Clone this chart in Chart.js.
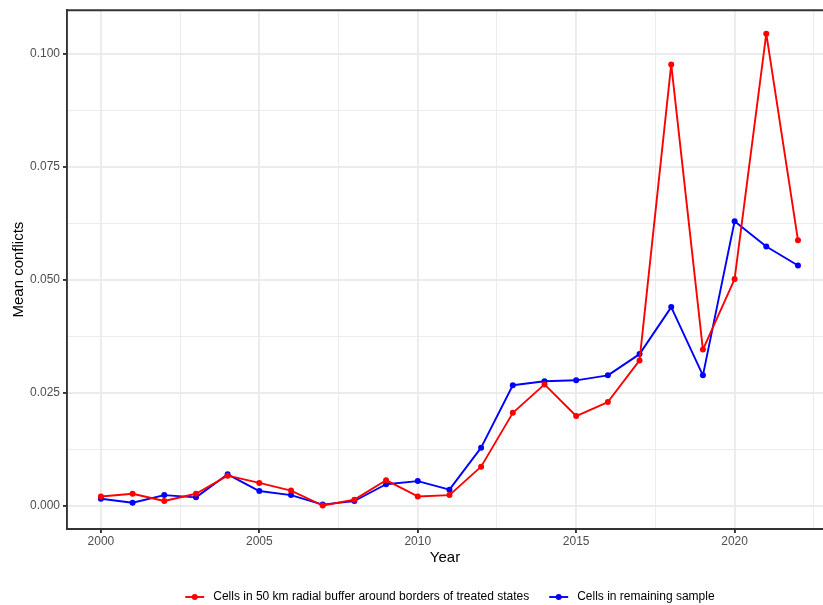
<!DOCTYPE html>
<html>
<head>
<meta charset="utf-8">
<script src="https://cdn.jsdelivr.net/npm/chart.js@4.4.1/dist/chart.umd.min.js"></script>
<style>
  html, body { margin: 0; padding: 0; background: #fff; overflow: hidden; }
</style>
</head>
<body>
<canvas id="c" width="823" height="605"></canvas>
<script>
// 平均紛争件数: 処置州境界の50kmバッファ内セル vs 残りのセル
const YEARS = [2000, 2001, 2002, 2003, 2004, 2005, 2006, 2007, 2008, 2009, 2010, 2011,
  2012, 2013, 2014, 2015, 2016, 2017, 2018, 2019, 2020, 2021, 2022];
const BUFFER = [0.0020, 0.0026, 0.0010, 0.0026, 0.0066, 0.0050, 0.0033, 0.0000, 0.0013, 0.0056, 0.0020, 0.0023,
  0.0086, 0.0205, 0.0268, 0.0198, 0.0229, 0.0321, 0.0976, 0.0345, 0.0501, 0.1044, 0.0587];
const REMAINING = [0.0015, 0.0006, 0.0023, 0.0018, 0.0069, 0.0032, 0.0023, 0.0002, 0.0010, 0.0047, 0.0054, 0.0035,
  0.0128, 0.0266, 0.0275, 0.0277, 0.0288, 0.0335, 0.0439, 0.0288, 0.0629, 0.0573, 0.0531];
const SERIES_LABELS = ["Cells in 50 km radial buffer around borders of treated states", "Cells in remaining sample"];
const SERIES_COLORS = ["#ff0000", "#0000ff"];
const X_TICKS = [2000, 2002.5, 2005, 2007.5, 2010, 2012.5, 2015, 2017.5, 2020, 2022.5];
const Y_TICKS = [0, 0.0125, 0.025, 0.0375, 0.05, 0.0625, 0.075, 0.0875, 0.1];

const FONT = "'Liberation Sans', Arial, sans-serif";
const ink = "#4d4d4d";
const gridColor = "#ebebeb";
const frame = "#333333";
const PANEL_MAX = 2023.1; // ggplotのパネル右端(画像の外)

const isMajorX = (v) => v % 5 === 0;
const isMajorY = (v) => Math.abs(v / 0.025 - Math.round(v / 0.025)) < 1e-6;
const toPts = (vals) => YEARS.map((y, i) => ({ x: y, y: vals[i] }));

// 上辺の枠線と、下の凡例(線+点のキー)
const framePlugin = {
  id: "frameTop",
  afterDraw(chart) {
    const { ctx, chartArea } = chart;
    ctx.save();
    ctx.strokeStyle = frame;
    ctx.lineWidth = 1.9;
    ctx.beginPath();
    ctx.moveTo(chartArea.left - 1, chartArea.top);
    ctx.lineTo(chartArea.right, chartArea.top);
    ctx.stroke();
    ctx.restore();
  },
};

const legendPlugin = {
  id: "ggLegend",
  afterDraw(chart) {
    const { ctx } = chart;
    const xs = chart.scales.x;
    const keyW = 19, gap = 9, itemGap = 20;
    ctx.save();
    ctx.font = `12px ${FONT}`;
    const items = chart.data.datasets.map((d) => ({ d, w: ctx.measureText(d.label).width }));
    const total = items.reduce((s, it) => s + keyW + gap + it.w, 0) + itemGap * (items.length - 1);
    const center = (xs.left + xs.getPixelForValue(PANEL_MAX)) / 2;
    let x = center - total / 2;
    const y = 597;
    items.forEach(({ d, w }) => {
      ctx.strokeStyle = d.borderColor;
      ctx.lineWidth = 1.9;
      ctx.beginPath();
      ctx.moveTo(x, y);
      ctx.lineTo(x + keyW, y);
      ctx.stroke();
      ctx.fillStyle = d.borderColor;
      ctx.beginPath();
      ctx.arc(x + keyW / 2, y, 3, 0, Math.PI * 2);
      ctx.fill();
      ctx.fillStyle = "#000";
      ctx.textBaseline = "middle";
      ctx.fillText(d.label, x + keyW + gap, y);
      x += keyW + gap + w + itemGap;
    });
    ctx.restore();
  },
};

new Chart(document.getElementById("c"), {
  type: "line",
  data: {
    datasets: [
      { label: SERIES_LABELS[0], data: toPts(BUFFER), borderColor: SERIES_COLORS[0], backgroundColor: SERIES_COLORS[0] },
      { label: SERIES_LABELS[1], data: toPts(REMAINING), borderColor: SERIES_COLORS[1], backgroundColor: SERIES_COLORS[1] },
    ].map((d) => ({ ...d, borderWidth: 1.9, borderJoinStyle: "round", pointRadius: 3, pointBorderWidth: 0, pointHoverRadius: 3, tension: 0, fill: false })),
  },
  options: {
    responsive: false,
    animation: false,
    devicePixelRatio: 1,
    layout: { autoPadding: false, padding: { left: 0, right: 0, top: 10, bottom: 38 } },
    plugins: {
      tooltip: { enabled: false },
      legend: { display: false },
    },
    scales: {
      x: {
        type: "linear",
        min: 1998.93,
        max: 2022.79,
        afterBuildTicks: (s) => { s.ticks = X_TICKS.map((v) => ({ value: v })); },
        afterFit: (s) => { s.height = 38; },
        ticks: {
          color: ink,
          font: { family: FONT, size: 12 },
          padding: 1,
          maxRotation: 0,
          autoSkip: false,
          callback: (v) => (isMajorX(v) ? String(v) : ""),
        },
        grid: {
          color: gridColor,
          lineWidth: (c) => (isMajorX(c.tick.value) ? 1.9 : 0.95),
          tickColor: (c) => (isMajorX(c.tick.value) ? frame : "rgba(0,0,0,0)"),
          tickLength: 4,
          tickWidth: 1.9,
        },
        border: { display: true, color: frame, width: 1.9 },
        title: { display: true, text: "Year", color: "#000", font: { family: FONT, size: 15 }, padding: { top: 0, bottom: 0 } },
      },
      y: {
        min: -0.0052,
        max: 0.1096,
        afterBuildTicks: (s) => { s.ticks = Y_TICKS.map((v) => ({ value: v })); },
        afterFit: (s) => { s.width = 67; },
        ticks: {
          color: ink,
          font: { family: FONT, size: 12 },
          padding: 3,
          autoSkip: false,
          callback: (v) => (isMajorY(v) ? v.toFixed(3) : ""),
        },
        grid: {
          color: gridColor,
          lineWidth: (c) => (isMajorY(c.tick.value) ? 1.9 : 0.95),
          tickColor: (c) => (isMajorY(c.tick.value) ? frame : "rgba(0,0,0,0)"),
          tickLength: 4,
          tickWidth: 1.9,
        },
        border: { display: true, color: frame, width: 1.9 },
        title: { display: true, text: "Mean conflicts", color: "#000", font: { family: FONT, size: 15 }, padding: { top: 10, bottom: 0 } },
      },
    },
  },
  plugins: [framePlugin, legendPlugin],
});
</script>
</body>
</html>
